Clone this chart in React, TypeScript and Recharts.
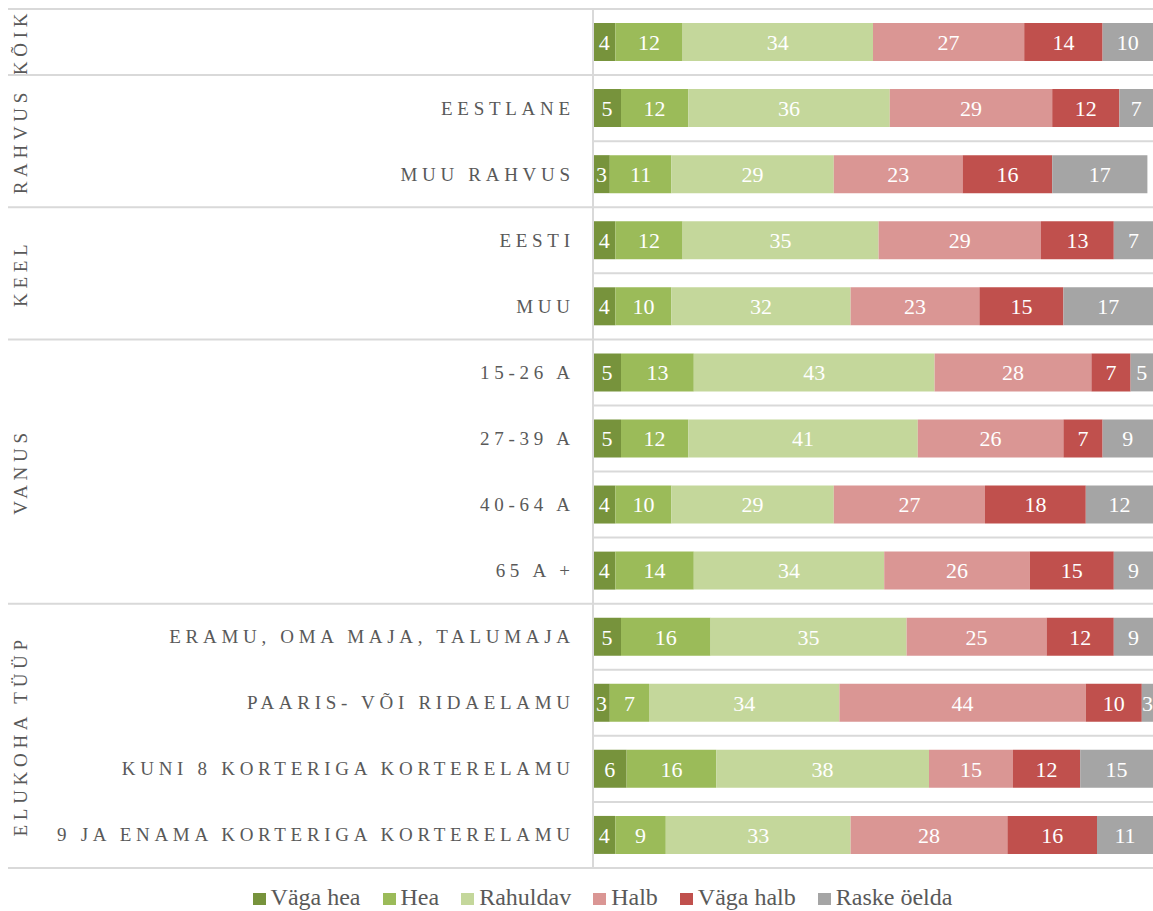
import React from 'react';
import { BarChart, Bar, XAxis, YAxis, Legend, LabelList } from 'recharts';

const FONT = '"Liberation Serif", "Times New Roman", serif';
const TEXT = '#595959';
const GRID = '#D9D9D9';

const categoryLabels = [
  '',
  'EESTLANE',
  'MUU RAHVUS',
  'EESTI',
  'MUU',
  '15-26 A',
  '27-39 A',
  '40-64 A',
  '65 A +',
  'ERAMU, OMA MAJA, TALUMAJA',
  'PAARIS- VÕI RIDAELAMU',
  'KUNI 8 KORTERIGA KORTERELAMU',
  '9 JA ENAMA KORTERIGA KORTERELAMU',
];
const groupNames = ['KÕIK', 'RAHVUS', 'KEEL', 'VANUS', 'ELUKOHA TÜÜP'];
const groupSizes = [1, 2, 2, 4, 4];

const seriesNames = ['Väga hea', 'Hea', 'Rahuldav', 'Halb', 'Väga halb', 'Raske öelda'];
const seriesColors = ['#77933C', '#9BBB59', '#C4D79B', '#DA9694', '#C0504D', '#A5A5A5'];

const vagaHea = [4, 5, 3, 4, 4, 5, 5, 4, 4, 5, 3, 6, 4];
const hea = [12, 12, 11, 12, 10, 13, 12, 10, 14, 16, 7, 16, 9];
const rahuldav = [34, 36, 29, 35, 32, 43, 41, 29, 34, 35, 34, 38, 33];
const halb = [27, 29, 23, 29, 23, 28, 26, 27, 26, 25, 44, 15, 28];
const vagaHalb = [14, 12, 16, 13, 15, 7, 7, 18, 15, 12, 10, 12, 16];
const raske = [10, 7, 17, 7, 17, 5, 9, 12, 9, 9, 3, 15, 11];

const seriesKeys = ['s0', 's1', 's2', 's3', 's4', 's5'];
const seriesValues = [vagaHea, hea, rahuldav, halb, vagaHalb, raske];

const data = categoryLabels.map((label, i) => {
  const row: Record<string, any> = { key: 'r' + i, label };
  seriesKeys.forEach((k, s) => {
    row[k] = seriesValues[s][i];
  });
  return row;
});

const groupStarts: number[] = [];
{
  let acc = 0;
  groupSizes.forEach((n) => {
    groupStarts.push(acc);
    acc += n;
  });
}

const CHART_W = 1153;
const CHART_H = 911;
const MARGIN = { top: 9, right: 0, bottom: 0, left: 8 };
const LEGEND_H = 43;
const LS = 4.7;

const CategoryTick = (props: any) => {
  const { x, y, payload, index } = props;
  const n = categoryLabels.length;
  const fallbackHalf = (CHART_H - MARGIN.top - MARGIN.bottom - LEGEND_H) / n / 2;
  const half = payload && typeof payload.offset === 'number' && payload.offset > 0 ? payload.offset : fallbackHalf;
  const top = y - half;
  const bottom = y + half;
  const gi = groupStarts.indexOf(index);
  const isGroupStart = gi >= 0;
  const isLast = index === n - 1;
  const label = categoryLabels[index] ?? '';
  return (
    <g>
      <line
        x1={isGroupStart ? MARGIN.left : x}
        x2={CHART_W}
        y1={top}
        y2={top}
        stroke={GRID}
        strokeWidth={2}
      />
      {isLast && (
        <line x1={MARGIN.left} x2={CHART_W} y1={bottom} y2={bottom} stroke={GRID} strokeWidth={2} />
      )}
      {label && (
        <text
          x={x - 23 + LS}
          y={y}
          textAnchor="end"
          dominantBaseline="central"
          fontFamily={FONT}
          fontSize={19}
          letterSpacing={LS}
          fill={TEXT}
        >
          {label}
        </text>
      )}
      {isGroupStart && (
        <text
          x={21}
          y={top + groupSizes[gi] * half}
          transform={`rotate(-90, 21, ${top + groupSizes[gi] * half})`}
          textAnchor="middle"
          dominantBaseline="central"
          fontFamily={FONT}
          fontSize={19}
          letterSpacing={LS}
          fill={TEXT}
        >
          {groupNames[gi]}
        </text>
      )}
    </g>
  );
};

const renderLegend = () => (
  <div
    style={{
      display: 'flex',
      justifyContent: 'center',
      alignItems: 'center',
      height: LEGEND_H,
      paddingTop: 14,
      paddingLeft: 52,
      boxSizing: 'border-box',
      fontFamily: FONT,
      fontSize: 24,
      color: TEXT,
      width: CHART_W,
    }}
  >
    {seriesNames.map((name, i) => (
      <div
        key={name}
        style={{ display: 'flex', alignItems: 'center', marginRight: i < seriesNames.length - 1 ? 22 : 0 }}
      >
        <span
          style={{
            display: 'inline-block',
            width: 13,
            height: 12,
            background: seriesColors[i],
            marginRight: 5,
            marginTop: 4,
          }}
        />
        <span style={{ lineHeight: 1 }}>{name}</span>
      </div>
    ))}
  </div>
);

export default function App() {
  return (
    <div style={{ position: 'absolute', left: 0, top: 0, background: '#fff' }}>
      <BarChart
        width={CHART_W}
        height={CHART_H}
        data={data}
        layout="vertical"
        margin={MARGIN}
        barSize={38}
      >
        <XAxis type="number" domain={[0, 100]} allowDataOverflow hide />
        <YAxis
          type="category"
          dataKey="key"
          width={585}
          interval={0}
          tickLine={false}
          tickSize={0}
          tickMargin={0}
          tick={<CategoryTick />}
          axisLine={{ stroke: GRID, strokeWidth: 2 }}
        />
        <Legend
          verticalAlign="bottom"
          height={LEGEND_H}
          wrapperStyle={{ left: 0, width: CHART_W }}
          content={renderLegend}
        />
        {seriesKeys.map((k, i) => (
          <Bar key={k} dataKey={k} name={seriesNames[i]} stackId="a" fill={seriesColors[i]} isAnimationActive={false}>
            <LabelList
              dataKey={k}
              position="center"
              fill="#FFFFFF"
              fontFamily={FONT}
              fontSize={22}
            />
          </Bar>
        ))}
      </BarChart>
    </div>
  );
}
